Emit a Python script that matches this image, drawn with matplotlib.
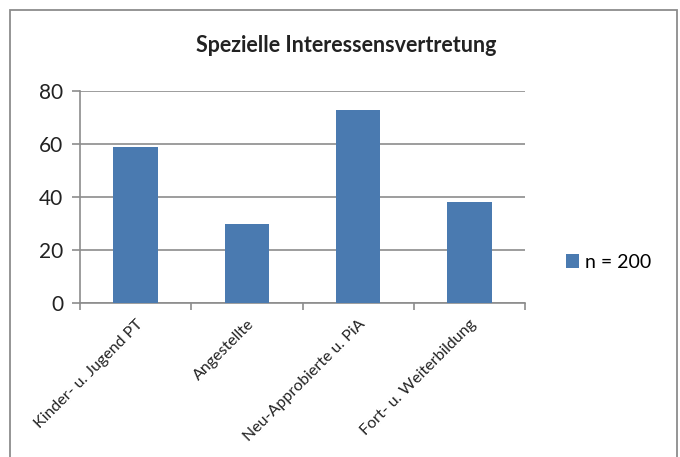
import matplotlib
matplotlib.use("Agg")
import matplotlib.pyplot as plt
from matplotlib.patches import Rectangle
import numpy as np

categories = ["Kinder- u. Jugend PT", "Angestellte", "Neu-Approbierte u. PiA", "Fort- u. Weiterbildung"]
values = [59, 30, 73, 38]
series_label = "n = 200"
yticks = [0, 20, 40, 60, 80]
title = "Spezielle Interessensvertretung"

plt.rcParams['font.family'] = ['Lato', 'DejaVu Sans']

W, H = 680, 457
fig = plt.figure(figsize=(W / 100, H / 100), dpi=100)
fig.patch.set_facecolor("white")

# outer chart frame
fig.patches.append(Rectangle((10 / W, -0.05), 667 / W, 1 - 10 / H + 0.05,
                             transform=fig.transFigure, fill=False,
                             edgecolor="#8c8c8c", linewidth=1.3))

ax = fig.add_axes([80 / W, 1 - 303 / H, 445 / W, 212 / H])
x = np.arange(len(categories))
ax.bar(x, values, width=0.4, color="#4a7ab0", label=series_label, zorder=3)

ax.set_xlim(-0.5, len(categories) - 0.5)
ax.set_ylim(0, 80)
ax.set_yticks(yticks)
ax.set_yticklabels([str(v) for v in yticks], fontsize=15, color="#222222")
ax.yaxis.grid(True, color="#8c8c8c", linewidth=1.2, zorder=0)
ax.tick_params(axis="y", length=6, width=1.2, color="#8c8c8c", pad=6)

# category boundary ticks on the x axis
ax.set_xticks(np.arange(len(categories) + 1) - 0.5, minor=False)
ax.set_xticklabels([])
ax.tick_params(axis="x", length=5, width=1.2, color="#8c8c8c")
ax.set_xticks(x, minor=True)
ax.set_xticklabels(categories, minor=True, rotation=45, ha="right",
                   rotation_mode="anchor", fontsize=11.5, color="#222222")
ax.tick_params(axis="x", which="minor", length=0, pad=10)

for s in ["top", "right"]:
    ax.spines[s].set_visible(False)
for s in ["left", "bottom"]:
    ax.spines[s].set_color("#8c8c8c")
    ax.spines[s].set_linewidth(1.2)

fig.text(346 / W, 1 - 45 / H, title, ha="center", va="center",
         fontsize=15.5, fontweight="bold", color="#222222")

leg = fig.legend(loc="center left", bbox_to_anchor=(556 / W, 1 - 262 / H),
                 frameon=False, fontsize=14, handlelength=0.7, handleheight=0.7,
                 handletextpad=0.3, borderpad=0)

fig.savefig("out.png", dpi=100)
